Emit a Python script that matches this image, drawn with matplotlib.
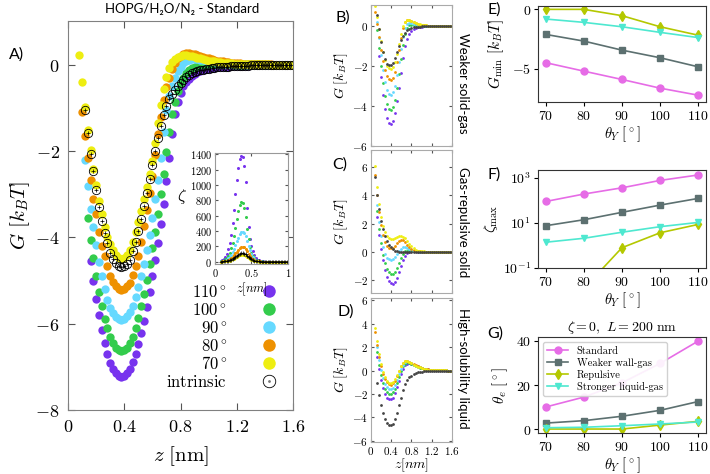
import numpy as np
import matplotlib
matplotlib.use('Agg')
import matplotlib.pyplot as plt
from matplotlib.lines import Line2D
from matplotlib.ticker import FuncFormatter, NullLocator

plt.rcParams['mathtext.fontset'] = 'cm'
nan = np.nan

# ---------------- panel A: G(z), standard system ----------------
z_a = np.round(np.arange(0.08, 1.601, 0.02), 2)
g70 = [0.24, -0.39, -0.98, -1.50, -1.98, -2.42, -2.78, -3.15, -3.45, -3.75,
       -3.98, -4.15, -4.29, -4.40, -4.47, -4.50, -4.47, -4.40, -4.28, -4.10,
       -3.88, -3.64, -3.38, -3.12, -2.82, -2.52, -2.22, -1.80, -1.35, -0.92,
       -0.55, -0.28, -0.08, 0.06, 0.14, 0.19, 0.21, 0.22, 0.22, 0.21,
       0.20, 0.18, 0.17, 0.15, 0.13, 0.12, 0.10, 0.09, 0.08, 0.07,
       0.06, 0.05, 0.05, 0.04, 0.04, 0.03, 0.03, 0.02, 0.02, 0.02,
       0.02, 0.02, 0.01, 0.01, 0.01, 0.01, 0.01, 0.01, 0.00, 0.00,
       0.00, 0.00, 0.00, 0.00, 0.00, 0.00, 0.00]
g80 = [nan, -1.10, -1.65, -2.15, -2.68, -3.10, -3.46, -3.88, -4.20, -4.42,
       -4.67, -4.90, -5.04, -5.13, -5.19, -5.21, -5.19, -5.13, -5.05, -4.88,
       -4.66, -4.42, -4.10, -3.74, -3.36, -2.98, -2.58, -2.10, -1.60, -1.20,
       -0.82, -0.52, -0.30, -0.10, 0.05, 0.15, 0.21, 0.25, 0.27, 0.27,
       0.26, 0.25, 0.23, 0.21, 0.19, 0.17, 0.15, 0.13, 0.12, 0.10,
       0.09, 0.08, 0.07, 0.06, 0.05, 0.05, 0.04, 0.04, 0.03, 0.03,
       0.03, 0.02, 0.02, 0.02, 0.01, 0.01, 0.01, 0.01, 0.01, 0.00,
       0.00, 0.00, 0.00, 0.00, 0.00, 0.00, 0.00]
g90 = [nan, nan, -2.20, -2.80, -3.35, -3.75, -4.17, -4.57, -4.90, -5.20,
       -5.46, -5.64, -5.76, -5.84, -5.89, -5.91, -5.89, -5.83, -5.73, -5.58,
       -5.38, -5.15, -4.90, -4.62, -4.30, -3.95, -3.55, -3.12, -2.66, -2.15,
       -1.55, -1.05, -0.72, -0.48, -0.30, -0.15, -0.04, 0.04, 0.09, 0.12,
       0.13, 0.13, 0.13, 0.12, 0.11, 0.10, 0.09, 0.08, 0.07, 0.06,
       0.05, 0.05, 0.04, 0.04, 0.03, 0.03, 0.03, 0.02, 0.02, 0.02,
       0.02, 0.01, 0.01, 0.01, 0.01, 0.01, 0.01, 0.00, 0.00, 0.00,
       0.00, 0.00, 0.00, 0.00, 0.00, 0.00, 0.00]
g100 = [nan, nan, nan, -3.55, -4.05, -4.47, -4.90, -5.27, -5.60, -5.88,
        -6.10, -6.30, -6.45, -6.56, -6.62, -6.64, -6.62, -6.56, -6.45, -6.30,
        -6.10, -5.87, -5.60, -5.30, -4.98, -4.62, -4.25, -3.87, -3.45, -3.00,
        -2.52, -2.02, -1.55, -1.15, -0.85, -0.60, -0.42, -0.30, -0.20, -0.13,
        -0.08, -0.05, -0.03, -0.01, 0.00, 0.01, 0.01, 0.01, 0.01, 0.01,
        0.01, 0.01, 0.01, 0.01, 0.01, 0.00, 0.00, 0.00, 0.00, 0.00,
        0.00, 0.00, 0.00, 0.00, 0.00, 0.00, 0.00, 0.00, 0.00, 0.00,
        0.00, 0.00, 0.00, 0.00, 0.00, 0.00, 0.00]
g110 = [nan, nan, nan, nan, -4.55, -5.00, -5.42, -5.80, -6.14, -6.45,
        -6.70, -6.90, -7.05, -7.15, -7.21, -7.23, -7.21, -7.15, -7.04, -6.89,
        -6.70, -6.48, -6.22, -5.93, -5.61, -5.27, -4.90, -4.52, -4.12, -3.70,
        -3.22, -2.70, -2.15, -1.60, -1.15, -0.85, -0.65, -0.50, -0.40, -0.32,
        -0.26, -0.21, -0.17, -0.14, -0.12, -0.10, -0.09, -0.08, -0.07, -0.06,
        -0.05, -0.05, -0.04, -0.04, -0.03, -0.03, -0.03, -0.02, -0.02, -0.02,
        -0.02, -0.01, -0.01, -0.01, -0.01, -0.01, -0.01, 0.00, 0.00, 0.00,
        0.00, 0.00, 0.00, 0.00, 0.00, 0.00, 0.00]
gint = [nan, nan, -1.05, -1.58, -2.07, -2.47, -2.90, -3.30, -3.62, -3.90,
        -4.13, -4.35, -4.50, -4.60, -4.66, -4.69, -4.67, -4.62, -4.52, -4.32,
        -4.10, -3.86, -3.58, -3.28, -2.96, -2.64, -2.32, -2.00, -1.70, -1.42,
        -1.16, -0.95, -0.80, -0.68, -0.58, -0.50, -0.42, -0.35, -0.29, -0.24,
        -0.20, -0.17, -0.15, -0.13, -0.11, -0.10, -0.09, -0.08, -0.07, -0.06,
        -0.05, -0.05, -0.04, -0.04, -0.03, -0.03, -0.03, -0.02, -0.02, -0.02,
        -0.02, -0.01, -0.01, -0.01, -0.01, -0.01, -0.01, 0.00, 0.00, 0.00,
        0.00, 0.00, 0.00, 0.00, 0.00, 0.00, 0.00]

# inset: zeta(z)
z_i = np.round(np.arange(0.08, 1.001, 0.02), 2)
zeta110 = [10, 20, 35, 60, 100, 160, 240, 350, 500, 680,
           880, 1070, 1220, 1340, 1380, 1370, 1250, 1040, 700, 450,
           290, 200, 140, 85, 50, 28, 16, 9, 5, 3,
           2, 1, 1, 1, 0, 0, 0, 0, 0, 0,
           0, 0, 0, 0, 0, 0, 0]
zeta100 = [5, 10, 18, 30, 50, 80, 120, 175, 250, 340,
           440, 550, 660, 740, 780, 770, 700, 580, 430, 290,
           190, 120, 75, 45, 27, 16, 10, 6, 4, 2,
           1, 1, 0, 0, 0, 0, 0, 0, 0, 0,
           0, 0, 0, 0, 0, 0, 0]
zeta90 = [3, 6, 10, 17, 27, 42, 62, 90, 125, 168,
          215, 265, 315, 355, 382, 390, 375, 335, 275, 210,
          150, 100, 65, 40, 24, 14, 8, 5, 3, 2,
          1, 1, 0, 0, 0, 0, 0, 0, 0, 0,
          0, 0, 0, 0, 0, 0, 0]
zeta80 = [2, 3, 5, 9, 14, 21, 31, 45, 63, 85,
          108, 133, 158, 178, 191, 195, 188, 168, 138, 105,
          75, 50, 33, 20, 12, 7, 4, 3, 2, 1,
          1, 0, 0, 0, 0, 0, 0, 0, 0, 0,
          0, 0, 0, 0, 0, 0, 0]
zeta70 = [1, 2, 3, 4, 7, 10, 15, 21, 29, 39,
          50, 61, 72, 82, 88, 90, 87, 78, 64, 49,
          35, 24, 16, 10, 6, 4, 2, 1, 1, 1,
          0, 0, 0, 0, 0, 0, 0, 0, 0, 0,
          0, 0, 0, 0, 0, 0, 0]
zetaint = [1, 2, 3, 5, 8, 12, 18, 26, 36, 48,
           61, 75, 89, 100, 108, 110, 106, 95, 78, 60,
           43, 29, 19, 12, 7, 4, 3, 2, 1, 1,
           0, 0, 0, 0, 0, 0, 0, 0, 0, 0,
           0, 0, 0, 0, 0, 0, 0]

# ---------------- panels B, C, D ----------------
z_s = np.round(np.arange(0.08, 1.601, 0.04), 2)
b70 = [1.00, 0.45, -0.15, -0.75, -1.30, -1.70, -1.98, -2.12, -2.15, -2.05,
       -1.80, -1.40, -0.90, -0.40, 0.00, 0.22, 0.30, 0.30, 0.26, 0.20,
       0.15, 0.11, 0.08, 0.06, 0.04, 0.03, 0.02, 0.02, 0.01, 0.01,
       0.01, 0.01, 0.00, 0.00, 0.00, 0.00, 0.00, 0.00, 0.00]
b80 = [0.70, 0.10, -0.55, -1.20, -1.75, -2.20, -2.50, -2.67, -2.70, -2.58,
       -2.28, -1.80, -1.20, -0.60, -0.10, 0.18, 0.28, 0.28, 0.24, 0.19,
       0.14, 0.10, 0.07, 0.05, 0.04, 0.03, 0.02, 0.02, 0.01, 0.01,
       0.01, 0.00, 0.00, 0.00, 0.00, 0.00, 0.00, 0.00, 0.00]
b90 = [nan, 0.20, -0.60, -1.45, -2.20, -2.80, -3.20, -3.42, -3.45, -3.32,
       -2.98, -2.45, -1.80, -1.15, -0.55, -0.12, 0.10, 0.16, 0.15, 0.12,
       0.09, 0.07, 0.05, 0.04, 0.03, 0.02, 0.02, 0.01, 0.01, 0.01,
       0.00, 0.00, 0.00, 0.00, 0.00, 0.00, 0.00, 0.00, 0.00]
b100 = [nan, -0.20, -1.10, -2.00, -2.85, -3.50, -3.92, -4.15, -4.20, -4.05,
        -3.68, -3.10, -2.40, -1.65, -0.95, -0.42, -0.10, 0.04, 0.07, 0.06,
        0.05, 0.04, 0.03, 0.02, 0.02, 0.01, 0.01, 0.01, 0.00, 0.00,
        0.00, 0.00, 0.00, 0.00, 0.00, 0.00, 0.00, 0.00, 0.00]
b110 = [nan, nan, -1.50, -2.55, -3.45, -4.15, -4.62, -4.85, -4.90, -4.75,
        -4.35, -3.75, -3.10, -2.35, -1.60, -1.00, -0.65, -0.42, -0.27, -0.17,
        -0.11, -0.07, -0.05, -0.03, -0.02, -0.01, -0.01, 0.00, 0.00, 0.00,
        0.00, 0.00, 0.00, 0.00, 0.00, 0.00, 0.00, 0.00, 0.00]
bint = [nan, 0.55, -0.15, -0.80, -1.30, -1.65, -1.88, -1.97, -1.97, -1.85,
        -1.62, -1.32, -1.00, -0.72, -0.50, -0.33, -0.22, -0.15, -0.10, -0.07,
        -0.05, -0.04, -0.03, -0.02, -0.02, -0.01, -0.01, -0.01, 0.00, 0.00,
        0.00, 0.00, 0.00, 0.00, 0.00, 0.00, 0.00, 0.00, 0.00]

c70 = [6.10, 4.60, 3.40, 2.50, 1.85, 1.40, 1.10, 0.95, 0.88, 0.88,
       0.95, 1.05, 1.10, 1.12, 1.08, 0.95, 0.78, 0.58, 0.40, 0.26,
       0.16, 0.10, 0.06, 0.04, 0.03, 0.02, 0.01, 0.01, 0.01, 0.00,
       0.00, 0.00, 0.00, 0.00, 0.00, 0.00, 0.00, 0.00, 0.00]
c80 = [5.40, 4.00, 2.85, 1.90, 1.20, 0.70, 0.40, 0.27, 0.25, 0.30,
       0.45, 0.62, 0.76, 0.84, 0.82, 0.70, 0.52, 0.35, 0.22, 0.13,
       0.08, 0.05, 0.03, 0.02, 0.01, 0.01, 0.01, 0.00, 0.00, 0.00,
       0.00, 0.00, 0.00, 0.00, 0.00, 0.00, 0.00, 0.00, 0.00]
c90 = [nan, 3.30, 2.10, 1.10, 0.35, -0.15, -0.42, -0.50, -0.55, -0.52,
       -0.38, -0.15, 0.08, 0.24, 0.32, 0.32, 0.27, 0.20, 0.13, 0.08,
       0.05, 0.03, 0.02, 0.01, 0.01, 0.00, 0.00, 0.00, 0.00, 0.00,
       0.00, 0.00, 0.00, 0.00, 0.00, 0.00, 0.00, 0.00, 0.00]
c100 = [nan, 2.90, 1.60, 0.60, -0.20, -0.80, -1.20, -1.45, -1.55, -1.53,
        -1.40, -1.12, -0.78, -0.42, -0.15, 0.03, 0.10, 0.12, 0.10, 0.07,
        0.05, 0.03, 0.02, 0.01, 0.01, 0.00, 0.00, 0.00, 0.00, 0.00,
        0.00, 0.00, 0.00, 0.00, 0.00, 0.00, 0.00, 0.00, 0.00]
c110 = [nan, 2.50, 1.20, 0.20, -0.60, -1.30, -1.75, -2.05, -2.20, -2.25,
        -2.12, -1.85, -1.45, -1.00, -0.60, -0.30, -0.10, 0.01, 0.04, 0.04,
        0.03, 0.02, 0.01, 0.01, 0.00, 0.00, 0.00, 0.00, 0.00, 0.00,
        0.00, 0.00, 0.00, 0.00, 0.00, 0.00, 0.00, 0.00, 0.00]
cint = [5.30, 4.00, 3.00, 2.20, 1.60, 1.15, 0.80, 0.52, 0.32, 0.18,
        0.09, 0.04, 0.02, 0.01, 0.00, 0.00, 0.00, 0.00, 0.00, 0.00,
        0.00, 0.00, 0.00, 0.00, 0.00, 0.00, 0.00, 0.00, 0.00, 0.00,
        0.00, 0.00, 0.00, 0.00, 0.00, 0.00, 0.00, 0.00, 0.00]

d70 = [3.60, 2.50, 1.40, 0.55, -0.10, -0.55, -0.85, -1.02, -1.05, -0.95,
       -0.72, -0.40, -0.02, 0.35, 0.65, 0.82, 0.80, 0.72, 0.62, 0.52,
       0.42, 0.34, 0.27, 0.21, 0.16, 0.12, 0.09, 0.07, 0.05, 0.04,
       0.03, 0.02, 0.02, 0.01, 0.01, 0.01, 0.00, 0.00, 0.00]
d80 = [3.30, 2.20, 1.20, 0.40, -0.25, -0.70, -1.00, -1.17, -1.20, -1.10,
       -0.85, -0.48, -0.05, 0.35, 0.67, 0.85, 0.85, 0.77, 0.66, 0.55,
       0.45, 0.36, 0.28, 0.22, 0.17, 0.13, 0.10, 0.07, 0.05, 0.04,
       0.03, 0.02, 0.02, 0.01, 0.01, 0.01, 0.00, 0.00, 0.00]
d90 = [nan, 2.00, 0.90, 0.05, -0.65, -1.12, -1.42, -1.58, -1.60, -1.48,
       -1.20, -0.78, -0.30, 0.15, 0.50, 0.72, 0.78, 0.72, 0.62, 0.52,
       0.42, 0.34, 0.27, 0.21, 0.16, 0.12, 0.09, 0.07, 0.05, 0.04,
       0.03, 0.02, 0.02, 0.01, 0.01, 0.01, 0.00, 0.00, 0.00]
d100 = [nan, 1.60, 0.50, -0.35, -1.05, -1.55, -1.85, -1.98, -2.00, -1.87,
        -1.55, -1.08, -0.55, -0.05, 0.35, 0.60, 0.70, 0.68, 0.60, 0.50,
        0.41, 0.33, 0.26, 0.20, 0.15, 0.11, 0.08, 0.06, 0.05, 0.04,
        0.03, 0.02, 0.02, 0.01, 0.01, 0.01, 0.00, 0.00, 0.00]
d110 = [nan, 1.20, 0.10, -0.80, -1.50, -2.00, -2.30, -2.43, -2.45, -2.30,
        -1.95, -1.42, -0.85, -0.30, 0.15, 0.45, 0.60, 0.62, 0.57, 0.50,
        0.42, 0.35, 0.28, 0.22, 0.17, 0.13, 0.10, 0.07, 0.05, 0.04,
        0.03, 0.02, 0.02, 0.01, 0.01, 0.01, 0.00, 0.00, 0.00]
dint = [nan, -1.05, -2.07, -2.90, -3.62, -4.13, -4.50, -4.66, -4.67, -4.52,
        -4.10, -3.58, -2.96, -2.32, -1.70, -1.16, -0.80, -0.58, -0.42, -0.29,
        -0.20, -0.15, -0.11, -0.09, -0.07, -0.05, -0.04, -0.03, -0.03, -0.02,
        -0.02, -0.01, -0.01, -0.01, 0.00, 0.00, 0.00, 0.00, 0.00]

# ---------------- panels E, F, G ----------------
theta_y = [70, 80, 90, 100, 110]
systems = ['Standard', 'Weaker wall-gas', 'Repulsive', 'Stronger liquid-gas']
gmin = [[-4.50, -5.21, -5.91, -6.64, -7.23],
        [-2.13, -2.69, -3.45, -4.09, -4.85],
        [-0.03, -0.03, -0.56, -1.49, -2.20],
        [-0.84, -1.12, -1.49, -1.96, -2.40]]
zeta_max = [[91, 195, 370, 790, 1380],
            [7.6, 14, 30, 63, 125],
            [0.002, 0.012, 0.8, 3.7, 8.7],
            [1.4, 2.1, 3.9, 6.9, 10.7]]
theta_e = [[10.0, 14.5, 21.0, 29.8, 40.0],
           [2.7, 3.8, 5.8, 8.5, 12.5],
           [0.0, 0.0, 0.0, 1.8, 3.5],
           [0.6, 0.8, 1.5, 2.3, 3.2]]

angle_labels = [r'$110^\circ$', r'$100^\circ$', r'$90^\circ$', r'$80^\circ$', r'$70^\circ$']
angle_colors = ['#7733ee', '#33cc4c', '#66d9ff', '#ee9100', '#eeee11']
sys_colors = ['#e66ce6', '#5c7070', '#b4c800', '#4ee8d0']
sys_markers = ['o', 's', 'd', 'v']

sans = ['Lato', 'DejaVu Sans']
math_fmt = FuncFormatter(lambda v, p: f'${v:g}$')


def style_gnu(ax, fs, spine='#888888'):
    for s in ax.spines.values():
        s.set_color(spine)
    ax.tick_params(direction='in', top=True, right=True, length=3,
                   color='#555555', labelsize=fs, pad=3)
    ax.xaxis.set_major_formatter(math_fmt)
    ax.yaxis.set_major_formatter(math_fmt)


fig = plt.figure(figsize=(7.1, 4.74), dpi=100)

# A
axA = fig.add_axes([0.0958, 0.135, 0.317, 0.821])
for vals, col in zip([g110, g100, g90, g80, g70], angle_colors):
    axA.plot(z_a, vals, 'o', ms=6, color=col, mew=0)
axA.plot(z_a, gint, 'o', ms=6, mfc='none', mec='k', mew=0.6)
axA.plot(z_a, gint, '+', ms=3, color='k', mew=0.5)
axA.set_xlim(0, 1.6)
axA.set_ylim(-8, 1.02)
axA.set_xticks([0, 0.4, 0.8, 1.2, 1.6])
axA.set_yticks([-8, -6, -4, -2, 0])
style_gnu(axA, 13, '#808080')
axA.tick_params(length=5, pad=6)
axA.set_xlabel(r'$z\ [\mathrm{nm}]$', fontsize=15, labelpad=6)
axA.set_ylabel(r'$G\ [k_BT]$', fontsize=15, labelpad=2)

handles = [Line2D([], [], ls='none', marker='o', ms=9, color=c, mew=0) for c in angle_colors]
handles.append((Line2D([], [], ls='none', marker='o', ms=9, mfc='none', mec='k', mew=0.6),
                Line2D([], [], ls='none', marker='o', ms=1, color='#777777')))
axA.legend(handles, angle_labels + [r'$\mathrm{intrinsic}$'], loc='lower right',
           bbox_to_anchor=(0.93, 0.05), markerfirst=False, frameon=False, fontsize=12,
           handlelength=1.0, handletextpad=2.0, labelspacing=0.0, borderpad=0,
           borderaxespad=0)

# inset
axI = fig.add_axes([0.3028, 0.443, 0.1028, 0.234])
for vals, col in zip([zeta110, zeta100, zeta90, zeta80, zeta70], angle_colors):
    axI.plot(z_i, vals, 'o', ms=2.2, color=col, mew=0)
axI.plot(z_i, zetaint, '-', lw=0.6, color='k')
axI.plot(z_i, zetaint, '+', ms=2.5, color='k', mew=0.5)
axI.set_xlim(0, 1)
axI.set_ylim(-30, 1415)
axI.set_xticks([0, 0.5, 1])
axI.set_yticks(range(0, 1401, 200))
style_gnu(axI, 7.5, '#999999')
axI.tick_params(length=2, pad=2)
axI.set_xlabel(r'$z[nm]$', fontsize=9, labelpad=1)
axI.set_ylabel(r'$\zeta$', fontsize=12, rotation=0)
axI.yaxis.set_label_coords(-0.45, 0.52)

# B, C, D
small = [
    ([b110, b100, b90, b80, b70], bint, (-6, 1.05), [-6, -4, -2, 0], [0.5225, 0.692, 0.1141, 0.2975]),
    ([c110, c100, c90, c80, c70], cint, (-2.9, 7.2), [-2, 0, 2, 4, 6], [0.5225, 0.3819, 0.1141, 0.3017]),
    ([d110, d100, d90, d80, d70], dint, (-6.1, 6.2), [-6, -4, -2, 0, 2, 4, 6], [0.5225, 0.0675, 0.1141, 0.3038]),
]
small_axes = []
for curves, intr, ylim, yt, rect in small:
    ax = fig.add_axes(rect)
    for vals, col in zip(curves, angle_colors):
        ax.plot(z_s, vals, 'o', ms=2.0, color=col, mew=0)
    ax.plot(z_s, intr, 'o', ms=2.0, color='#444444', mew=0)
    ax.set_xlim(0, 1.6)
    ax.set_ylim(*ylim)
    ax.set_xticks([0, 0.4, 0.8, 1.2, 1.6])
    ax.set_yticks(yt)
    style_gnu(ax, 8, '#aaaaaa')
    ax.tick_params(length=2.5, pad=2)
    ax.set_ylabel(r'$G\ [k_BT]$', fontsize=10, labelpad=2)
    small_axes.append(ax)
small_axes[0].tick_params(labelbottom=False)
small_axes[1].tick_params(labelbottom=False)
small_axes[2].set_xlabel(r'$z[nm]$', fontsize=10, labelpad=0)

side_labels = ['Weaker solid-gas', 'Gas-repulsive solid', 'High-solubility liquid']
for lab, y in zip(side_labels, [0.825, 0.532, 0.222]):
    fig.text(0.652, y, lab, rotation=-90, ha='center', va='center', fontsize=9.5, family=sans)

# E, F, G
axE = fig.add_axes([0.7577, 0.7848, 0.2366, 0.2025])
axF = fig.add_axes([0.7577, 0.4346, 0.2366, 0.2068])
axG = fig.add_axes([0.7577, 0.0865, 0.2366, 0.2025])
for ax, data in [(axE, gmin), (axF, zeta_max), (axG, theta_e)]:
    for vals, col, mk, lab in zip(data, sys_colors, sys_markers, systems):
        ax.plot(theta_y, vals, '-', marker=mk, color=col, lw=1.2, ms=5, label=lab)
    ax.set_xlim(68, 112)
    ax.set_xticks(theta_y)
    for s in ax.spines.values():
        s.set_color('#333333')
        s.set_linewidth(0.8)
    ax.tick_params(labelsize=10, length=3, width=0.8, pad=2)
    ax.xaxis.set_major_formatter(math_fmt)
    ax.set_xlabel(r'$\theta_Y\ [^\circ]$', fontsize=10.5, labelpad=1)

axE.set_ylim(-7.8, 0.25)
axE.set_yticks([-5, 0])
axE.yaxis.set_major_formatter(math_fmt)
axE.set_ylabel(r'$G_{\min}\ [k_BT]$', fontsize=11, labelpad=4)

axF.set_yscale('log')
axF.set_ylim(0.1, 2300)
axF.set_yticks([0.1, 10, 1000])
axF.yaxis.set_minor_locator(NullLocator())
axF.yaxis.set_major_formatter(FuncFormatter(lambda v, p: r'$10^{%d}$' % round(np.log10(v))))
axF.set_ylabel(r'$\zeta_{\max}$', fontsize=11, labelpad=2)

axG.set_ylim(-1.8, 41.8)
axG.set_yticks([0, 20, 40])
axG.yaxis.set_major_formatter(math_fmt)
axG.set_ylabel(r'$\theta_e\ [^\circ]$', fontsize=11, labelpad=4)
axG.set_title(r'$\zeta=0,\ L=200\ \mathrm{nm}$', fontsize=10, pad=4)
axG.legend(loc='upper left', prop={'family': 'cmr10', 'size': 7.5}, labelspacing=0.2,
           handlelength=2.0, borderpad=0.4, edgecolor='#cccccc', framealpha=0.9)

# titles and panel letters
fig.text(0.256, 0.981, 'HOPG/H\u2082O/N\u2082 - Standard', ha='center', va='center',
         fontsize=9.5, family=sans)
letters = [('A)', 0.012, 0.884), ('B)', 0.472, 0.964), ('C)', 0.468, 0.652),
           ('D)', 0.475, 0.342), ('E)', 0.686, 0.979), ('F)', 0.687, 0.631),
           ('G)', 0.686, 0.297)]
for txt, x, y in letters:
    fig.text(x, y, txt, ha='left', va='center', fontsize=11.5, family=sans)

fig.savefig('out.png', dpi=100)
